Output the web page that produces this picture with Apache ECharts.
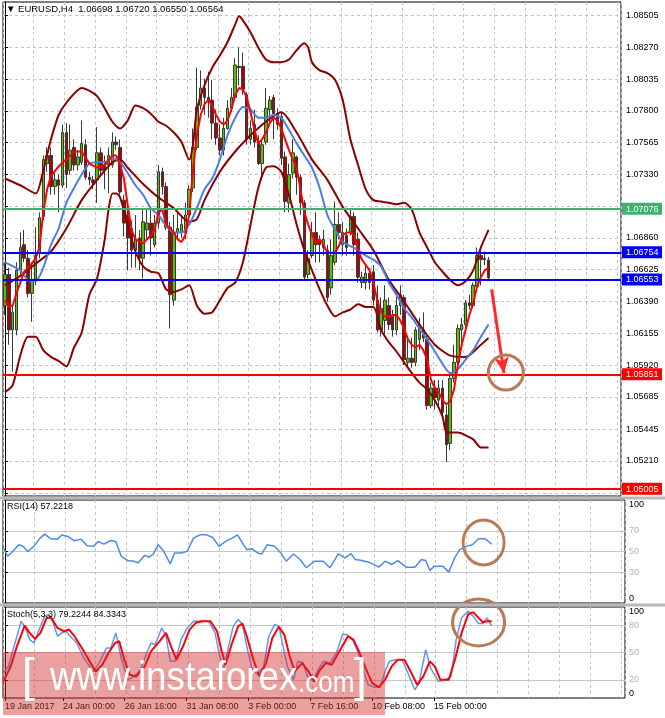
<!DOCTYPE html>
<html><head><meta charset="utf-8">
<script src="https://cdn.jsdelivr.net/npm/echarts@6/dist/echarts.min.js"></script>
<style>html,body{margin:0;padding:0;background:#fff}#c{width:665px;height:718px}</style>
</head><body><div id="c"></div>
<script>
// ---------------- DATA ----------------
const symbolName = 'EURUSD,H4';
const slotCount = 161; // bar slots incl. chart shift
// [open, close, low, high]
const candles = [
[1.0636,1.0659,1.0629,1.0668],[1.0659,1.0618,1.0607,1.0664],[1.0618,1.0631,1.0587,1.0636],[1.0618,1.0662,1.0614,1.0668],
[1.0662,1.0679,1.0659,1.0690],[1.0681,1.0671,1.0668,1.0692],[1.0671,1.0645,1.0642,1.0677],[1.0645,1.0655,1.0624,1.0668],
[1.0655,1.0673,1.0651,1.0694],[1.0675,1.0701,1.0671,1.0705],[1.0702,1.0744,1.0699,1.0747],[1.0741,1.0747,1.0735,1.0753],
[1.0747,1.0724,1.0718,1.0753],[1.0724,1.0729,1.0718,1.0735],[1.0729,1.0725,1.0705,1.0733],[1.0725,1.0764,1.0723,1.0770],
[1.0764,1.0733,1.0723,1.0771],[1.0736,1.0751,1.0733,1.0770],[1.0753,1.0740,1.0736,1.0759],[1.0740,1.0746,1.0736,1.0751],
[1.0742,1.0756,1.0740,1.0773],[1.0755,1.0731,1.0729,1.0759],[1.0731,1.0729,1.0725,1.0735],[1.0729,1.0727,1.0722,1.0732],
[1.0729,1.0749,1.0712,1.0768],[1.0749,1.0736,1.0733,1.0753],[1.0740,1.0736,1.0722,1.0747],[1.0740,1.0747,1.0719,1.0753],
[1.0740,1.0757,1.0738,1.0764],[1.0757,1.0755,1.0751,1.0761],[1.0753,1.0720,1.0718,1.0759],[1.0714,1.0697,1.0687,1.0718],
[1.0703,1.0686,1.0662,1.0710],[1.0693,1.0677,1.0664,1.0699],[1.0677,1.0685,1.0664,1.0703],[1.0686,1.0671,1.0662,1.0692],
[1.0671,1.0698,1.0656,1.0708],[1.0692,1.0697,1.0685,1.0707],[1.0697,1.0686,1.0673,1.0708],[1.0681,1.0697,1.0679,1.0703],
[1.0697,1.0735,1.0693,1.0740],[1.0735,1.0724,1.0718,1.0738],[1.0724,1.0694,1.0692,1.0727],[1.0694,1.0644,1.0619,1.0698],
[1.0640,1.0690,1.0636,1.0703],[1.0690,1.0693,1.0685,1.0705],[1.0690,1.0696,1.0686,1.0703],[1.0690,1.0703,1.0685,1.0712],
[1.0703,1.0722,1.0699,1.0725],[1.0723,1.0753,1.0720,1.0767],[1.0753,1.0783,1.0751,1.0812],[1.0784,1.0797,1.0781,1.0810],
[1.0797,1.0790,1.0777,1.0804],[1.0790,1.0787,1.0775,1.0809],[1.0788,1.0771,1.0759,1.0803],[1.0771,1.0760,1.0755,1.0781],
[1.0760,1.0751,1.0747,1.0770],[1.0751,1.0767,1.0747,1.0775],[1.0767,1.0782,1.0766,1.0788],[1.0782,1.0790,1.0779,1.0797],
[1.0790,1.0814,1.0788,1.0819],[1.0813,1.0812,1.0799,1.0827],[1.0813,1.0796,1.0792,1.0823],[1.0792,1.0759,1.0755,1.0794],
[1.0759,1.0767,1.0755,1.0773],[1.0770,1.0757,1.0753,1.0781],[1.0756,1.0741,1.0740,1.0762],[1.0741,1.0755,1.0729,1.0759],
[1.0757,1.0782,1.0755,1.0797],[1.0781,1.0788,1.0770,1.0791],[1.0790,1.0778,1.0759,1.0792],[1.0778,1.0770,1.0766,1.0782],
[1.0776,1.0745,1.0740,1.0779],[1.0746,1.0713,1.0705,1.0750],[1.0712,1.0733,1.0705,1.0741],[1.0734,1.0749,1.0730,1.0759],
[1.0746,1.0731,1.0718,1.0747],[1.0731,1.0712,1.0703,1.0733],[1.0712,1.0657,1.0655,1.0714],[1.0659,1.0671,1.0656,1.0677],
[1.0673,1.0690,1.0671,1.0698],[1.0690,1.0681,1.0668,1.0705],[1.0685,1.0681,1.0668,1.0688],[1.0679,1.0685,1.0673,1.0692],
[1.0677,1.0642,1.0639,1.0681],[1.0649,1.0673,1.0644,1.0685],[1.0668,1.0696,1.0666,1.0713],[1.0696,1.0690,1.0685,1.0705],
[1.0681,1.0690,1.0673,1.0698],[1.0688,1.0679,1.0673,1.0693],[1.0690,1.0702,1.0688,1.0708],[1.0702,1.0681,1.0673,1.0705],
[1.0685,1.0657,1.0653,1.0690],[1.0653,1.0657,1.0649,1.0661],[1.0653,1.0660,1.0648,1.0666],[1.0660,1.0653,1.0648,1.0664],
[1.0661,1.0640,1.0636,1.0666],[1.0640,1.0618,1.0616,1.0651],[1.0618,1.0634,1.0613,1.0642],[1.0625,1.0640,1.0613,1.0651],
[1.0636,1.0622,1.0618,1.0642],[1.0628,1.0618,1.0613,1.0633],[1.0618,1.0636,1.0614,1.0646],[1.0636,1.0644,1.0629,1.0651],
[1.0642,1.0596,1.0592,1.0644],[1.0594,1.0597,1.0591,1.0613],[1.0597,1.0594,1.0590,1.0612],[1.0594,1.0618,1.0591,1.0620],
[1.0611,1.0622,1.0603,1.0627],[1.0618,1.0612,1.0609,1.0631],[1.0611,1.0562,1.0559,1.0614],[1.0562,1.0575,1.0560,1.0579],
[1.0575,1.0568,1.0559,1.0581],[1.0566,1.0575,1.0561,1.0581],[1.0575,1.0557,1.0553,1.0581],[1.0555,1.0533,1.0520,1.0562],
[1.0534,1.0582,1.0529,1.0587],[1.0582,1.0594,1.0579,1.0607],[1.0594,1.0619,1.0590,1.0622],[1.0618,1.0622,1.0607,1.0627],
[1.0622,1.0638,1.0619,1.0640],[1.0638,1.0636,1.0633,1.0644],[1.0636,1.0651,1.0634,1.0653],[1.0650,1.0673,1.0648,1.0679],
[1.0673,1.0670,1.0651,1.0679],[1.0671,1.0670,1.0666,1.0676],[1.06698,1.06564,1.06550,1.06720]
];
// Bollinger upper / middle / lower  [bar, price]
const upperBand = [[0,1.0730],[4,1.0725],[8,1.0719],[10,1.0736],[12,1.0759],[14,1.0777],[16,1.0786],[20,1.0797],[24,1.0791],[28,1.0772],[30,1.0767],[32,1.0773],[34,1.0784],[36,1.0782],[38,1.0778],[40,1.0772],[42,1.0769],[44,1.0764],[46,1.0757],[48,1.0744],[49,1.0755],[50,1.0781],[52,1.0799],[54,1.0812],[56,1.0821],[58,1.0831],[60,1.0844],[61,1.0850],[62,1.0847],[64,1.0838],[66,1.0827],[68,1.0818],[70,1.0816],[72,1.0816],[74,1.0818],[76,1.0825],[78,1.0830],[79,1.0827],[80,1.0816],[82,1.0810],[84,1.0808],[86,1.0803],[88,1.0788],[90,1.0759],[92,1.0740],[94,1.0722],[96,1.0714],[98,1.0713],[100,1.0712],[102,1.0711],[104,1.0712],[106,1.0707],[108,1.0690],[110,1.0679],[112,1.0668],[114,1.0661],[116,1.0655],[118,1.0651],[120,1.0654],[122,1.0662],[124,1.0679],[126,1.0692]];
const middleBand = [[0,1.0651],[4,1.0658],[8,1.0667],[12,1.0676],[16,1.0693],[20,1.0714],[24,1.0729],[28,1.0742],[30,1.0744],[32,1.0738],[36,1.0726],[40,1.0716],[44,1.0708],[48,1.0698],[50,1.0700],[52,1.0714],[56,1.0735],[60,1.0750],[64,1.0762],[68,1.0772],[72,1.0779],[76,1.0764],[80,1.0744],[84,1.0729],[88,1.0709],[92,1.0693],[96,1.0677],[100,1.0655],[104,1.0639],[108,1.0622],[112,1.0607],[116,1.0599],[120,1.0598],[124,1.0607],[126,1.0612]];
const lowerBand = [[0,1.0572],[2,1.0577],[4,1.0599],[6,1.0613],[8,1.0613],[10,1.0603],[12,1.0598],[14,1.0595],[16,1.0591],[18,1.0605],[20,1.0616],[22,1.0644],[24,1.0656],[26,1.0685],[27,1.0707],[28,1.0719],[29,1.0719],[30,1.0716],[32,1.0696],[34,1.0676],[36,1.0665],[38,1.0661],[40,1.0660],[42,1.0648],[44,1.0646],[46,1.0648],[48,1.0651],[50,1.0636],[52,1.0630],[54,1.0631],[56,1.0640],[58,1.0649],[60,1.0653],[62,1.0668],[64,1.0696],[66,1.0723],[68,1.0738],[70,1.0739],[72,1.0735],[74,1.0718],[76,1.0696],[78,1.0677],[80,1.0662],[82,1.0648],[84,1.0636],[86,1.0628],[88,1.0631],[90,1.0633],[92,1.0637],[94,1.0635],[96,1.0635],[98,1.0618],[100,1.0609],[102,1.0602],[104,1.0594],[106,1.0586],[108,1.0579],[110,1.0574],[112,1.0566],[114,1.0554],[115,1.0542],[116,1.0542],[118,1.0542],[120,1.0540],[122,1.0537],[124,1.0531],[126,1.0531]];
// slow (blue) and fast (red) moving averages
const slowMA = [[0,1.0668],[4,1.0662],[6,1.0655],[8,1.0654],[10,1.0664],[12,1.0681],[14,1.0693],[16,1.0712],[18,1.0723],[20,1.0733],[22,1.0741],[24,1.0742],[26,1.0742],[28,1.0745],[30,1.0742],[32,1.0734],[34,1.0725],[36,1.0718],[38,1.0708],[40,1.0703],[42,1.0695],[44,1.0690],[46,1.0690],[48,1.0696],[50,1.0708],[52,1.0722],[54,1.0730],[56,1.0744],[58,1.0762],[60,1.0775],[62,1.0783],[64,1.0781],[66,1.0775],[68,1.0775],[70,1.0777],[72,1.0775],[74,1.0766],[76,1.0756],[78,1.0747],[80,1.0738],[82,1.0723],[84,1.0703],[86,1.0692],[88,1.0683],[90,1.0680],[92,1.0677],[94,1.0673],[96,1.0670],[98,1.0665],[100,1.0653],[102,1.0644],[104,1.0634],[106,1.0627],[108,1.0619],[110,1.0611],[112,1.0602],[114,1.0593],[116,1.0586],[118,1.0589],[120,1.0596],[122,1.0603],[124,1.0613],[126,1.0622]];
const fastMA = [[0,1.0640],[1,1.0635],[2,1.0636],[3,1.0645],[4,1.0653],[5,1.0661],[6,1.0664],[7,1.0667],[8,1.0671],[9,1.0679],[10,1.0705],[11,1.0722],[12,1.0732],[14,1.0739],[16,1.0744],[18,1.0750],[20,1.0750],[22,1.0741],[24,1.0738],[26,1.0740],[28,1.0747],[29,1.0747],[30,1.0740],[31,1.0730],[32,1.0710],[33,1.0692],[34,1.0685],[36,1.0682],[38,1.0688],[39,1.0692],[40,1.0705],[41,1.0707],[42,1.0696],[43,1.0693],[44,1.0690],[45,1.0685],[46,1.0683],[47,1.0688],[48,1.0703],[49,1.0736],[50,1.0762],[51,1.0777],[52,1.0785],[53,1.0788],[54,1.0784],[55,1.0777],[56,1.0772],[57,1.0770],[58,1.0773],[59,1.0781],[60,1.0792],[61,1.0797],[62,1.0796],[63,1.0790],[64,1.0779],[65,1.0766],[66,1.0756],[67,1.0759],[68,1.0764],[69,1.0771],[70,1.0775],[71,1.0773],[72,1.0767],[73,1.0759],[74,1.0751],[75,1.0744],[76,1.0738],[77,1.0722],[78,1.0705],[79,1.0696],[80,1.0688],[81,1.0682],[82,1.0685],[83,1.0681],[84,1.0675],[85,1.0675],[86,1.0675],[87,1.0680],[88,1.0688],[89,1.0690],[90,1.0690],[91,1.0688],[92,1.0677],[93,1.0670],[94,1.0666],[95,1.0662],[96,1.0653],[97,1.0640],[98,1.0631],[99,1.0628],[100,1.0628],[101,1.0629],[102,1.0629],[103,1.0625],[104,1.0619],[105,1.0611],[106,1.0607],[107,1.0605],[108,1.0607],[109,1.0603],[110,1.0596],[111,1.0581],[112,1.0575],[113,1.0572],[114,1.0566],[115,1.0563],[116,1.0565],[117,1.0574],[118,1.0592],[119,1.0607],[120,1.0618],[121,1.0629],[122,1.0638],[123,1.0650],[124,1.0657],[125,1.0662],[126,1.0664]];
// horizontal levels
const levelPrices = [1.07076, 1.06754, 1.06553, 1.05851, 1.05005];
// price axis ticks
const priceTicks = [1.08505,1.08270,1.08035,1.07800,1.07565,1.07330,1.07095,1.06860,1.06625,1.06390,1.06155,1.05920,1.05685,1.05445,1.05210,1.04975];
const priceMin = 1.04951, priceMax = 1.08606;
// time axis labels
const dateLabelText = ['19 Jan 2017','24 Jan 00:00','26 Jan 16:00','31 Jan 08:00','3 Feb 00:00','7 Feb 16:00','10 Feb 08:00','15 Feb 00:00'];
const dateLabelBar = [0, 15, 31, 47, 63, 79, 95, 111];
// RSI(14)
const rsiLine = [[-0.4,53.4],[0.7,45.4],[2.0,50],[3.6,56.6],[4.7,55],[5.9,50],[7.5,55],[9.1,63],[10.3,66.8],[11.9,62.3],[13.6,62],[14.7,66],[16.3,64.6],[18.0,60.4],[19.7,62],[21.3,55.6],[23.0,55],[24.1,59.8],[25.6,57.2],[27.4,60.7],[28.7,59.8],[30.1,45.4],[31.8,41.2],[33.4,40.6],[34.5,39],[36.2,46.3],[37.3,44.4],[38.4,47.6],[39.7,56.6],[41.1,50.2],[42.8,38],[43.9,48.6],[45.6,48.6],[47.2,50.2],[48.8,63],[50.5,66.2],[52.2,66.2],[53.8,63.6],[55.4,55],[57.1,59.8],[58.8,63],[60.2,66.2],[61.5,58.2],[62.6,51.8],[63.9,52.7],[65.4,48.6],[66.5,47.6],[67.9,56.6],[69.8,55],[71.4,48.6],[72.8,40.6],[74.7,47.6],[76.4,42.2],[78.0,34.2],[80.2,40.6],[82.4,40.6],[84.1,34.2],[86.3,47.6],[88.0,43.8],[89.6,47.9],[90.7,42.2],[92.4,41.2],[94.6,39],[96.8,34.8],[98.4,40.6],[100.1,37.4],[101.7,41.2],[103.9,34.8],[106.1,34.8],[107.8,42.2],[108.9,41.2],[110.0,31.6],[111.1,35.8],[113.3,35.8],[114.9,30],[116.4,43.8],[117.7,51.8],[119.4,55],[121.0,56.6],[122.6,62.3],[124.3,62.3],[126.0,57.2218]];
const rsiLevels = [30, 50, 70];
const rsiLabels = [0, 30, 50, 70, 100];
// Stochastic(5,3,3)
const stochMain = [[-0.4,27.4],[0.9,34.7],[2.6,60.5],[4.2,84.4],[5.3,77],[6.4,64.2],[7.5,60.5],[9.2,78.9],[10.3,90],[11.4,91.8],[12.5,82.6],[13.6,67.9],[14.7,71.5],[15.8,73.4],[16.9,67.9],[18.6,60.5],[20.2,45.8],[21.9,34.7],[23.0,29.2],[24.6,40.3],[26.3,55],[27.4,55],[28.7,71.5],[30.1,43.9],[31.8,20],[33.4,23.7],[35.1,31.1],[36.7,49.5],[37.8,60.5],[38.9,58.7],[40.6,77],[41.7,67.9],[42.8,40.3],[44.1,40.3],[45.6,64.2],[47.2,77],[48.8,84.4],[50.5,84.4],[52.7,84.4],[54.4,71.5],[55.4,49.5],[56.6,31.1],[57.7,53.1],[59.1,78.9],[60.4,86.3],[61.5,80.7],[62.6,56.8],[63.9,32.9],[65.4,25.5],[67.0,34.7],[68.3,67.9],[69.8,80.7],[70.9,78.9],[72.0,56.8],[73.1,34.7],[74.7,20],[75.8,40.3],[77.2,38.4],[78.3,23.7],[79.7,20],[81.1,31.1],[82.4,40.3],[84.1,38.4],[85.8,49.5],[87.4,69.7],[88.5,69.7],[90.2,62.3],[91.8,45.8],[92.9,29.2],[94.0,14.5],[95.7,11.9],[97.1,11.9],[98.4,29.2],[99.5,40.3],[101.2,42.1],[102.8,42.1],[104.5,25.5],[106.1,9],[107.2,16.3],[108.9,53.1],[110.2,32.9],[112.2,18.2],[113.8,20],[115.5,23.7],[116.8,64.2],[118.2,88.1],[119.9,95.5],[121.2,90],[122.6,81.8],[123.7,81.8],[124.8,88.1],[126.0,79.2244]];
const stochSignal = [[-0.4,18.2],[1.5,34.7],[3.1,56.8],[5.1,79.6],[6.4,71.5],[7.8,64.9],[9.2,71.5],[10.8,88.1],[12.0,88.1],[13.6,77],[15.2,73.4],[16.6,75.2],[18.0,67.9],[20.2,53.1],[21.9,40.3],[23.5,29.2],[25.2,36.6],[26.8,49.5],[28.5,60.5],[29.6,62.3],[30.9,42.1],[32.3,25.5],[34.0,23.7],[36.2,34.7],[37.8,51.3],[40.0,62.3],[41.7,71.5],[43.0,56.8],[44.4,42.1],[46.1,56.8],[47.8,75.2],[49.4,82.6],[51.0,84.4],[53.2,84.4],[54.9,73.4],[56.0,53.1],[57.1,36.6],[58.8,60.5],[60.4,78.9],[61.5,81.8],[62.6,67.9],[64.3,42.1],[65.9,23.7],[67.6,38.4],[69.2,66],[70.9,78.2],[72.3,69.7],[73.6,47.6],[75.0,29.2],[76.9,38.4],[78.6,29.2],[80.0,18.2],[81.3,29.2],[83.0,38.4],[84.6,36.6],[86.8,53.1],[88.8,67.9],[90.2,64.2],[91.8,49.5],[93.5,31.1],[95.1,16.3],[96.8,11.9],[98.4,20],[100.1,34.7],[101.7,42.1],[103.4,42.1],[105.0,29.2],[106.7,14.5],[108.3,23.7],[110.0,40.3],[111.3,34.7],[112.7,20],[114.9,20],[116.6,44],[118.2,71.5],[119.9,91.8],[121.2,94.4],[122.6,88.1],[123.7,83.3],[124.8,84.4],[126.0,84.3343]];
const stochLevels = [20, 50, 80];
const stochLabels = [0, 20, 50, 80, 100];
// annotations (data coordinates)
const arrowFrom = [126.8, 1.0648], arrowTo = [130.0, 1.0586];
const targetCircle = [130.5, 1.05865];
const rsiCircle = [123.9, 58.7];
const stochCircle = [122.6, 83];

// ---------------- STYLE ----------------
const FONT = 'Liberation Sans, Arial, sans-serif';
const levelColors = ['#3cb371', '#0000ff', '#0000ff', '#ff0000', '#ff0000'];
const levelKeys = ['g', 'b', 'b', 'r', 'r'];
const gridDash = {color: '#c4c4c4', type: [3, 3], width: 1};
const circleColor = '#b97a57';

const cats = Array.from({length: slotCount}, (_, i) => String(i));
const last = candles[candles.length - 1];
const titleText = '\u25BC ' + symbolName + '  ' + [last[0], last[3], last[2], last[1]].map(v => v.toFixed(5)).join(' ');
const rsiText = 'RSI(14) ' + rsiLine[rsiLine.length - 1][1].toFixed(4);
const stochText = 'Stoch(5,3,3) ' + stochMain[stochMain.length - 1][1].toFixed(4) + ' ' + stochSignal[stochSignal.length - 1][1].toFixed(4);

const labelPrices = priceTicks.filter(p => levelPrices.every(l => Math.abs(l - p) > 0.0004));

function catAxis(g, withLabels) {
  return {
    type: 'category', gridIndex: g, data: cats, boundaryGap: true,
    axisLine: {show: false},
    axisTick: withLabels ? {show: true, alignWithLabel: true, length: 3, interval: (i) => dateLabelBar.includes(i), lineStyle: {color: '#000'}} : {show: false},
    axisLabel: withLabels ? {
      show: true, interval: (i) => dateLabelBar.includes(i), align: 'left', margin: 4,
      fontFamily: FONT, fontSize: 9, color: '#000',
      formatter: (v, i) => { const k = dateLabelBar.indexOf(i); return k >= 0 ? dateLabelText[k] : ''; }
    } : {show: false},
    splitLine: {show: true, interval: 7, lineStyle: gridDash}
  };
}
function valAxis(g) {
  return {type: 'value', gridIndex: g, min: -0.5, max: slotCount - 0.5, show: false, splitLine: {show: false}};
}
function oscAxis(g, levels, labels) {
  return {
    type: 'value', gridIndex: g, position: 'right', min: 0, max: 100,
    axisLine: {show: true, lineStyle: {color: '#000', width: 1}},
    axisTick: {show: true, length: 3, customValues: levels, lineStyle: {color: '#000'}},
    splitLine: {show: true, lineStyle: {color: '#c8c8c8', width: 1, type: 'solid'}},
    axisLabel: {
      customValues: labels, margin: 4, fontFamily: FONT, fontSize: 9,
      verticalAlignMaxLabel: 'top', verticalAlignMinLabel: 'bottom',
      formatter: v => (v === 0 || v === 100) ? '{k|' + v + '}' : '{g|' + v + '}',
      rich: {k: {color: '#000', fontFamily: FONT, fontSize: 9}, g: {color: '#b4b4b4', fontFamily: FONT, fontSize: 9}}
    }
  };
}

const chart = echarts.init(document.getElementById('c'), null, {renderer: 'canvas', width: 665, height: 718});
const lineBase = {type: 'line', showSymbol: false, symbol: 'none', silent: true, animation: false};

chart.setOption({
  animation: false,
  backgroundColor: '#fff',
  grid: [
    {left: 3, top: 2, width: 622, height: 494, show: true, borderColor: '#000', borderWidth: 1, backgroundColor: '#fff'},
    {left: 3, top: 500, width: 622, height: 103, show: true, borderColor: '#000', borderWidth: 1, backgroundColor: '#fff'},
    {left: 3, top: 607, width: 622, height: 91, show: true, borderColor: '#000', borderWidth: 1, backgroundColor: '#fff'}
  ],
  xAxis: [catAxis(0, false), valAxis(0), catAxis(1, false), valAxis(1), catAxis(2, true), valAxis(2)],
  yAxis: [
    {
      type: 'value', gridIndex: 0, position: 'right', min: priceMin, max: priceMax,
      axisLine: {show: true, lineStyle: {color: '#000', width: 1}},
      axisTick: {show: true, length: 3, customValues: priceTicks, lineStyle: {color: '#000'}},
      splitLine: {show: true, lineStyle: gridDash},
      axisLabel: {customValues: labelPrices, margin: 5, color: '#000', fontFamily: FONT, fontSize: 9, formatter: v => v.toFixed(5)}
    },
    {
      type: 'value', gridIndex: 0, position: 'right', min: priceMin, max: priceMax,
      axisLine: {show: false}, axisTick: {show: false}, splitLine: {show: false},
      axisLabel: {
        customValues: levelPrices, margin: 1,
        formatter: v => { const k = levelPrices.findIndex(l => Math.abs(l - v) < 1e-8); return '{' + levelKeys[k] + '|' + v.toFixed(5) + '}'; },
        rich: {
          g: {backgroundColor: levelColors[0], color: '#fff', padding: [2, 4, 1, 4], width: 32, fontFamily: FONT, fontSize: 9},
          b: {backgroundColor: levelColors[1], color: '#fff', padding: [2, 4, 1, 4], width: 32, fontFamily: FONT, fontSize: 9},
          r: {backgroundColor: levelColors[3], color: '#fff', padding: [2, 4, 1, 4], width: 32, fontFamily: FONT, fontSize: 9}
        }
      }
    },
    oscAxis(1, rsiLevels, rsiLabels),
    oscAxis(2, stochLevels, stochLabels)
  ],
  series: [
    {
      type: 'candlestick', xAxisIndex: 0, yAxisIndex: 0, data: candles, barWidth: 3, silent: true, z: 2,
      itemStyle: {color: '#5cbf00', color0: '#b00000', borderColor: '#3a3a3a', borderColor0: '#3a3a3a', borderWidth: 1}
    },
    Object.assign({}, lineBase, {name: 'upper', xAxisIndex: 1, yAxisIndex: 0, data: upperBand, smooth: 0.25, z: 3, lineStyle: {color: '#8b0000', width: 2},
      markPoint: {silent: true, animation: false, label: {show: false}, data: [{coord: targetCircle, symbol: 'circle', symbolSize: 35, itemStyle: {color: 'rgba(0,0,0,0)', borderColor: circleColor, borderWidth: 3}}]}}),
    Object.assign({}, lineBase, {name: 'middle', xAxisIndex: 1, yAxisIndex: 0, data: middleBand, smooth: 0.25, z: 3, lineStyle: {color: '#8b0000', width: 2}}),
    Object.assign({}, lineBase, {name: 'lower', xAxisIndex: 1, yAxisIndex: 0, data: lowerBand, smooth: 0.25, z: 3, lineStyle: {color: '#8b0000', width: 2}}),
    Object.assign({}, lineBase, {name: 'slow', xAxisIndex: 1, yAxisIndex: 0, data: slowMA, smooth: 0.25, z: 3, lineStyle: {color: '#4a7ee6', width: 2},
      markLine: {silent: true, animation: false, precision: 5, symbol: ['none', 'arrow'], symbolSize: [11, 16], label: {show: false},
        lineStyle: {color: '#ff2a2a', width: 3, type: 'solid'}, data: [[{coord: arrowFrom}, {coord: arrowTo}]]}}),
    Object.assign({}, lineBase, {name: 'fast', xAxisIndex: 1, yAxisIndex: 0, data: fastMA, z: 4, lineStyle: {color: '#ff0000', width: 2},
      markLine: {silent: true, animation: false, precision: 5, symbol: 'none', label: {show: false},
        data: levelPrices.map((v, i) => ({yAxis: v, lineStyle: {color: levelColors[i], width: 2, type: 'solid'}}))}}),
    Object.assign({}, lineBase, {name: 'rsi', xAxisIndex: 3, yAxisIndex: 2, data: rsiLine, z: 3, lineStyle: {color: '#4d8ae8', width: 1.5},
      markPoint: {silent: true, animation: false, label: {show: false}, data: [{coord: rsiCircle, symbol: 'circle', symbolSize: [41, 45], itemStyle: {color: 'rgba(0,0,0,0)', borderColor: circleColor, borderWidth: 3}}]}}),
    Object.assign({}, lineBase, {name: 'stochMain', xAxisIndex: 5, yAxisIndex: 3, data: stochMain, z: 3, lineStyle: {color: '#6496ee', width: 1.5},
      markPoint: {silent: true, animation: false, label: {show: false}, data: [{coord: stochCircle, symbol: 'circle', symbolSize: [52, 47], itemStyle: {color: 'rgba(0,0,0,0)', borderColor: circleColor, borderWidth: 3}}]}}),
    Object.assign({}, lineBase, {name: 'stochSignal', xAxisIndex: 5, yAxisIndex: 3, data: stochSignal, z: 4, lineStyle: {color: '#ff0000', width: 2}})
  ],
  graphic: [
    {type: 'rect', z: 50, silent: true, shape: {x: 0, y: 496.5, width: 665, height: 3}, style: {fill: '#b8b8b8'}},
    {type: 'rect', z: 50, silent: true, shape: {x: 0, y: 603.5, width: 665, height: 3}, style: {fill: '#b8b8b8'}},
    {type: 'text', z: 60, silent: true, x: 6, y: 4, style: {text: titleText, fontFamily: FONT, fontSize: 9.5, fill: '#000'}},
    {type: 'text', z: 60, silent: true, x: 7, y: 502, style: {text: rsiText, fontFamily: FONT, fontSize: 9, fill: '#000'}},
    {type: 'text', z: 60, silent: true, x: 7, y: 610, style: {text: stochText, fontFamily: FONT, fontSize: 9, fill: '#000'}},
    {type: 'rect', z: 70, silent: true, shape: {x: 3, y: 652, width: 382, height: 63}, style: {fill: 'rgba(210,45,45,0.45)'}},
    {type: 'text', z: 71, silent: true, x: 22, y: 655, style: {text: '[', fontFamily: FONT, fontSize: 46, fill: '#fff'}},
    {type: 'text', z: 71, silent: true, x: 50, y: 659, scaleX: 0.92, style: {text: 'www.instaforex', fontFamily: FONT, fontSize: 40, fill: '#fff'}},
    {type: 'text', z: 71, silent: true, x: 298, y: 669, scaleX: 0.9, style: {text: '.com', fontFamily: FONT, fontSize: 29, fill: '#fff'}},
    {type: 'text', z: 71, silent: true, x: 354, y: 655, style: {text: ']', fontFamily: FONT, fontSize: 46, fill: '#fff'}}
  ]
});
</script>
</body></html>
